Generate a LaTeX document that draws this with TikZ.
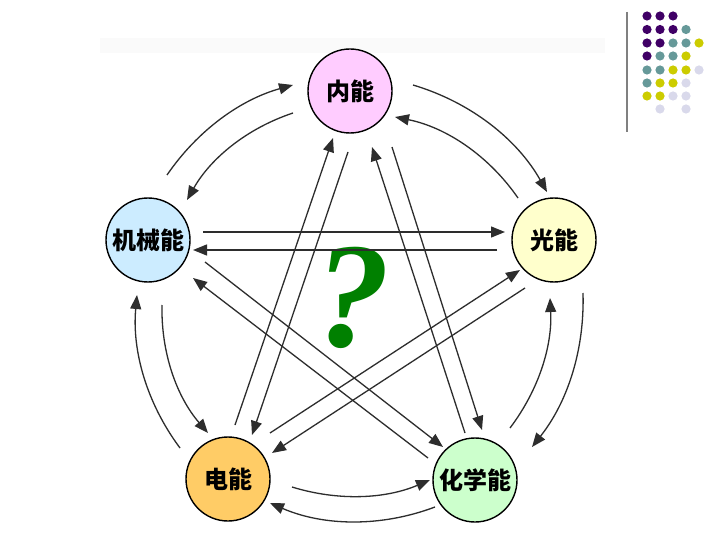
\documentclass[tikz,border=0pt]{standalone}
\usepackage{fontspec}
\newfontfamily\cjk{Noto Sans CJK SC}
\newfontfamily\qfont{Liberation Serif}
\usetikzlibrary{arrows.meta}
\definecolor{cIn}{RGB}{255,204,255}
\definecolor{cJx}{RGB}{204,236,255}
\definecolor{cGu}{RGB}{255,255,204}
\definecolor{cDi}{RGB}{255,204,102}
\definecolor{cHx}{RGB}{204,255,204}
\definecolor{qgreen}{RGB}{0,128,0}
\definecolor{dotP}{RGB}{64,0,102}
\definecolor{dotT}{RGB}{102,153,153}
\definecolor{dotY}{RGB}{204,204,0}
\definecolor{dotL}{RGB}{217,217,235}
\definecolor{lineC}{RGB}{45,45,45}
\begin{document}
\begin{tikzpicture}[x=1pt,y=1pt,
  en/.style={circle,draw=black,line width=1.4pt,minimum size=84pt,inner sep=0pt,
    font=\cjk\bfseries\fontsize{24}{24}\selectfont},
  arr/.style={draw=lineC,line width=1.3pt,-{Triangle[length=14pt,width=11pt]}},
  bl/.style={bend left=#1,looseness=0.9},
  br/.style={bend right=#1,looseness=0.9},
  dP/.style={fill=dotP}, dT/.style={fill=dotT}, dY/.style={fill=dotY},
  dL/.style={fill=dotL}, dN/.style={fill=none}]
\useasboundingbox (0,0) rectangle (720,-540);
\fill[white] (0,0) rectangle (720,-540);
% faint band
\fill[black!2] (100,-38) rectangle (605,-53);
% top-right decoration
\draw[line width=2.5pt,black!50] (627,-12) -- (627,-132);
\foreach \c [count=\i from 0] in {dP,dP,dP}{\path[\c] (647+13*\i,-16) circle (4.6);}
\foreach \c [count=\i from 0] in {dP,dP,dP,dT}{\path[\c] (647+13*\i,-29.5) circle (4.6);}
\foreach \c [count=\i from 0] in {dP,dP,dT,dT,dY}{\path[\c] (647+13*\i,-43) circle (4.6);}
\foreach \c [count=\i from 0] in {dP,dT,dT,dY}{\path[\c] (647+13*\i,-56) circle (4.6);}
\foreach \c [count=\i from 0] in {dT,dT,dY,dY,dL}{\path[\c] (647+13*\i,-70) circle (4.6);}
\foreach \c [count=\i from 0] in {dT,dY,dY,dL}{\path[\c] (647+13*\i,-83) circle (4.6);}
\foreach \c [count=\i from 0] in {dY,dY,dL,dL}{\path[\c] (647+13*\i,-96) circle (4.6);}
\foreach \c [count=\i from 0] in {dN,dL,dN,dL}{\path[\c] (647+13*\i,-109) circle (4.6);}
% nodes
\node[en,fill=cIn] (nei) at (350,-91) {内能};
\node[en,fill=cJx] (jx) at (148,-240) {机械能};
\node[en,fill=cGu] (gu) at (554,-240) {光能};
\node[en,fill=cDi] (di) at (228,-479) {电能};
\node[en,fill=cHx] (hx) at (475,-480) {化学能};
% question mark
\node[text=qgreen,font=\qfont\bfseries\itshape\fontsize{150}{150}\selectfont,inner sep=0pt] (q) at (353,-298) {?};
% connector end points
\coordinate (a1s) at (167,-175); \coordinate (a1e) at (293,-85);
\coordinate (a2s) at (293,-113); \coordinate (a2e) at (187,-200);
\coordinate (a3s) at (413,-85); \coordinate (a3e) at (547,-192);
\coordinate (a4s) at (518,-198); \coordinate (a4e) at (395,-117);
\coordinate (a5s) at (203,-232); \coordinate (a5e) at (505,-232);
\coordinate (a6s) at (497,-250); \coordinate (a6e) at (193,-250);
\coordinate (a7s) at (162,-305); \coordinate (a7e) at (208,-433);
\coordinate (a8s) at (180,-448); \coordinate (a8e) at (137,-295);
\coordinate (a9s) at (583,-293); \coordinate (a9e) at (532,-447);
\coordinate (a10s) at (510,-428); \coordinate (a10e) at (550,-298);
\coordinate (a11s) at (292,-487); \coordinate (a11e) at (430,-480);
\coordinate (a12s) at (435,-507); \coordinate (a12e) at (270,-503);
\coordinate (a13s) at (235,-425); \coordinate (a13e) at (333,-138);
\coordinate (a14s) at (348,-152); \coordinate (a14e) at (252,-435);
\coordinate (a15s) at (465,-433); \coordinate (a15e) at (372,-147);
\coordinate (a16s) at (392,-147); \coordinate (a16e) at (482,-430);
\coordinate (a17s) at (270,-433); \coordinate (a17e) at (520,-270);
\coordinate (a18s) at (525,-288); \coordinate (a18e) at (272,-453);
\coordinate (a19s) at (205,-262); \coordinate (a19e) at (443,-447);
\coordinate (a20s) at (428,-458); \coordinate (a20e) at (193,-278);
% arcs
\draw[arr] (a1s) to[bl=20] (a1e);
\draw[arr] (a2s) to[br=21] (a2e);
\draw[arr] (a3s) to[bl=22] (a3e);
\draw[arr] (a4s) to[br=22] (a4e);
\draw[arr] (a7s) to[br=21] (a7e);
\draw[arr] (a8s) to[bl=21] (a8e);
\draw[arr] (a9s) to[bl=20] (a9e);
\draw[arr] (a10s) to[br=20] (a10e);
\draw[arr] (a11s) to[br=20] (a11e);
\draw[arr] (a12s) to[bl=22] (a12e);
% straight
\draw[arr] (a5s) -- (a5e);
\draw[arr] (a6s) -- (a6e);
\draw[arr] (a13s) -- (a13e);
\draw[arr] (a14s) -- (a14e);
\draw[arr] (a15s) -- (a15e);
\draw[arr] (a16s) -- (a16e);
\draw[arr] (a17s) -- (a17e);
\draw[arr] (a18s) -- (a18e);
\draw[arr] (a19s) -- (a19e);
\draw[arr] (a20s) -- (a20e);
\end{tikzpicture}
\end{document}
